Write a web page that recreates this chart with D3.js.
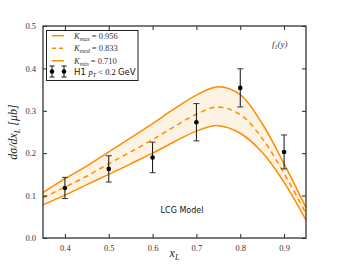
<!DOCTYPE html>
<html>
<head>
<meta charset="utf-8">
<script src="https://cdn.jsdelivr.net/npm/d3@7"></script>
<style>
  body { margin: 0; background: #fff; }
  svg { display: block; }
</style>
</head>
<body>
<div id="chart"></div>
<script>
const width = 340;
const height = 265;
const margin = { top: 26, left: 43, right: 34, bottom: 27 };

// model curves (x_L grid) for the three K values
const xGrid = [0.35, 0.40, 0.45, 0.50, 0.55, 0.60, 0.65, 0.70, 0.75, 0.80, 0.85, 0.90, 0.95];
const kMax = [0.107, 0.140, 0.170, 0.203, 0.236, 0.270, 0.305, 0.337, 0.357, 0.338, 0.270, 0.175, 0.072];
const kMed = [0.095, 0.120, 0.146, 0.175, 0.203, 0.232, 0.263, 0.292, 0.309, 0.291, 0.235, 0.152, 0.058];
const kMin = [0.078, 0.101, 0.126, 0.150, 0.175, 0.200, 0.227, 0.252, 0.265, 0.247, 0.202, 0.131, 0.042];

// H1 data, pT < 0.2 GeV
const h1X = [0.4, 0.5, 0.6, 0.7, 0.8, 0.9];
const h1Y = [0.118, 0.163, 0.190, 0.273, 0.354, 0.203];
const h1Err = [0.025, 0.031, 0.036, 0.044, 0.045, 0.040];

const xTicks = [0.4, 0.5, 0.6, 0.7, 0.8, 0.9];
const yTicks = [0.0, 0.1, 0.2, 0.3, 0.4, 0.5];

const orange = "#ff8c00";
const serif = "'Liberation Serif', 'DejaVu Serif', serif";
const sans = "'DejaVu Sans', sans-serif";

const svg = d3.select("#chart").append("svg")
  .attr("width", width)
  .attr("height", height);

const x = d3.scaleLinear().domain([0.35, 0.95]).range([margin.left, width - margin.right]);
const y = d3.scaleLinear().domain([0, 0.5]).range([height - margin.bottom, margin.top]);

let curves = xGrid.map((v, i) => ({ x: v, hi: kMax[i], med: kMed[i], lo: kMin[i] }));

// band between Kmin and Kmax
const area = d3.area()
  .x(d => x(d.x))
  .y0(d => y(d.lo))
  .y1(d => y(d.hi))
  .curve(d3.curveCatmullRom);

svg.append("path")
  .datum(curves)
  .attr("d", area)
  .attr("fill", "#fdf3e2");

let line = key => d3.line()
  .x(d => x(d.x))
  .y(d => y(d[key]))
  .curve(d3.curveCatmullRom);

svg.append("path").datum(curves).attr("d", line("hi"))
  .attr("fill", "none").attr("stroke", orange).attr("stroke-width", 1.5);
svg.append("path").datum(curves).attr("d", line("lo"))
  .attr("fill", "none").attr("stroke", orange).attr("stroke-width", 1.5);
svg.append("path").datum(curves).attr("d", line("med"))
  .attr("fill", "none").attr("stroke", orange).attr("stroke-width", 1.5)
  .attr("stroke-dasharray", "5,4");

// data points with error bars
let pts = h1X.map((v, i) => ({ x: v, y: h1Y[i], e: h1Err[i] }));
let gPts = svg.append("g");
gPts.selectAll(".eb")
  .data(pts)
  .enter().append("line")
  .attr("x1", d => x(d.x)).attr("x2", d => x(d.x))
  .attr("y1", d => y(d.y - d.e)).attr("y2", d => y(d.y + d.e))
  .attr("stroke", "#111").attr("stroke-width", 1);
gPts.selectAll(".capT")
  .data(pts)
  .enter().append("line")
  .attr("x1", d => x(d.x) - 3).attr("x2", d => x(d.x) + 3)
  .attr("y1", d => y(d.y + d.e)).attr("y2", d => y(d.y + d.e))
  .attr("stroke", "#333").attr("stroke-width", 1);
gPts.selectAll(".capB")
  .data(pts)
  .enter().append("line")
  .attr("x1", d => x(d.x) - 3).attr("x2", d => x(d.x) + 3)
  .attr("y1", d => y(d.y - d.e)).attr("y2", d => y(d.y - d.e))
  .attr("stroke", "#333").attr("stroke-width", 1);
gPts.selectAll("circle")
  .data(pts)
  .enter().append("circle")
  .attr("cx", d => x(d.x)).attr("cy", d => y(d.y))
  .attr("r", 2.3).attr("fill", "#000");

// axes, ticks inward on all four sides
const tickLen = 4;
const axisStyle = g => {
  g.select(".domain").remove();
  g.selectAll(".tick line").attr("stroke", "#222");
  g.selectAll(".tick text")
    .style("font-family", serif).style("font-size", "8.5px").attr("fill", "#333");
};

svg.append("g")
  .attr("transform", `translate(0,${height - margin.bottom})`)
  .call(d3.axisBottom(x).tickValues(xTicks).tickFormat(d3.format(".1f")).tickSizeInner(-tickLen).tickSizeOuter(0).tickPadding(7))
  .call(axisStyle);
svg.append("g")
  .attr("transform", `translate(0,${margin.top})`)
  .call(d3.axisTop(x).tickValues(xTicks).tickFormat("").tickSizeInner(-tickLen).tickSizeOuter(0))
  .call(axisStyle);
svg.append("g")
  .attr("transform", `translate(${margin.left},0)`)
  .call(d3.axisLeft(y).tickValues(yTicks).tickFormat(d3.format(".1f")).tickSizeInner(-tickLen).tickSizeOuter(0).tickPadding(7))
  .call(axisStyle);
svg.append("g")
  .attr("transform", `translate(${width - margin.right},0)`)
  .call(d3.axisRight(y).tickValues(yTicks).tickFormat("").tickSizeInner(-tickLen).tickSizeOuter(0))
  .call(axisStyle);

svg.append("rect")
  .attr("x", margin.left).attr("y", margin.top)
  .attr("width", width - margin.left - margin.right)
  .attr("height", height - margin.top - margin.bottom)
  .attr("fill", "none").attr("stroke", "#333").attr("stroke-width", 1.3);

// axis labels
let yl = svg.append("text")
  .attr("transform", `translate(17,${(margin.top + height - margin.bottom) / 2}) rotate(-90)`)
  .attr("text-anchor", "middle")
  .style("font-family", serif).style("font-style", "italic").style("font-size", "12px")
  .attr("fill", "#222");
yl.append("tspan").text("dσ/dx");
yl.append("tspan").attr("dy", 3).style("font-size", "8px").text("L");
yl.append("tspan").attr("dy", -3).text(" [μb]");

let xl = svg.append("text")
  .attr("x", x(0.65)).attr("y", 257)
  .attr("text-anchor", "middle")
  .style("font-family", serif).style("font-style", "italic").style("font-size", "12px")
  .attr("fill", "#222");
xl.append("tspan").text("x");
xl.append("tspan").attr("dy", 3).style("font-size", "8px").text("L");

// annotations
let f1 = svg.append("text")
  .attr("x", 272).attr("y", 47)
  .style("font-family", serif).style("font-style", "italic").style("font-size", "9px")
  .attr("fill", "#333");
f1.append("tspan").text("f");
f1.append("tspan").attr("dy", 2).style("font-size", "6px").text("1");
f1.append("tspan").attr("dy", -2).text("(y)");

svg.append("text")
  .attr("x", 182).attr("y", 213)
  .attr("text-anchor", "middle")
  .style("font-family", sans).style("font-size", "8px")
  .attr("fill", "#111")
  .text("LCG Model");

// legend
const legendLabels = [
  { sub: "max", val: "0.956", dash: null },
  { sub: "med", val: "0.833", dash: "4,3" },
  { sub: "min", val: "0.710", dash: null }
];
let gLeg = svg.append("g");
gLeg.append("rect")
  .attr("x", 46.5).attr("y", 30.5).attr("width", 91.5).attr("height", 50)
  .attr("fill", "#fff").attr("stroke", "#222").attr("stroke-width", 1);

legendLabels.forEach((d, i) => {
  let ly = 35.7 + i * 12.5;
  gLeg.append("line")
    .attr("x1", 52).attr("x2", 64).attr("y1", ly).attr("y2", ly)
    .attr("stroke", orange).attr("stroke-width", 1.5)
    .attr("stroke-dasharray", d.dash);
  let t = gLeg.append("text")
    .attr("x", 74).attr("y", ly + 3)
    .style("font-family", serif).style("font-size", "8.5px").attr("fill", "#333");
  t.append("tspan").style("font-style", "italic").text("K");
  t.append("tspan").attr("dy", 2).style("font-size", "6px").style("font-style", "italic").text(d.sub);
  t.append("tspan").attr("dy", -2).text(" = " + d.val);
});

// H1 legend entry
[52, 64].forEach(cx => {
  gLeg.append("line").attr("x1", cx).attr("x2", cx).attr("y1", 66).attr("y2", 77)
    .attr("stroke", "#111").attr("stroke-width", 1);
  gLeg.append("line").attr("x1", cx - 2.5).attr("x2", cx + 2.5).attr("y1", 66).attr("y2", 66)
    .attr("stroke", "#111").attr("stroke-width", 1);
  gLeg.append("line").attr("x1", cx - 2.5).attr("x2", cx + 2.5).attr("y1", 77).attr("y2", 77)
    .attr("stroke", "#111").attr("stroke-width", 1);
  gLeg.append("circle").attr("cx", cx).attr("cy", 71.5).attr("r", 2.3).attr("fill", "#000");
});
let h1t = gLeg.append("text")
  .attr("x", 74).attr("y", 74.5)
  .style("font-size", "8.5px").attr("fill", "#111");
h1t.append("tspan").style("font-family", sans).text("H1 ");
h1t.append("tspan").style("font-family", serif).style("font-style", "italic").text("p");
h1t.append("tspan").attr("dy", 2).style("font-family", serif).style("font-style", "italic").style("font-size", "6px").text("T");
h1t.append("tspan").attr("dy", -2).style("font-family", serif).text(" < 0.2 ");
h1t.append("tspan").style("font-family", sans).text("GeV");
</script>
</body>
</html>
